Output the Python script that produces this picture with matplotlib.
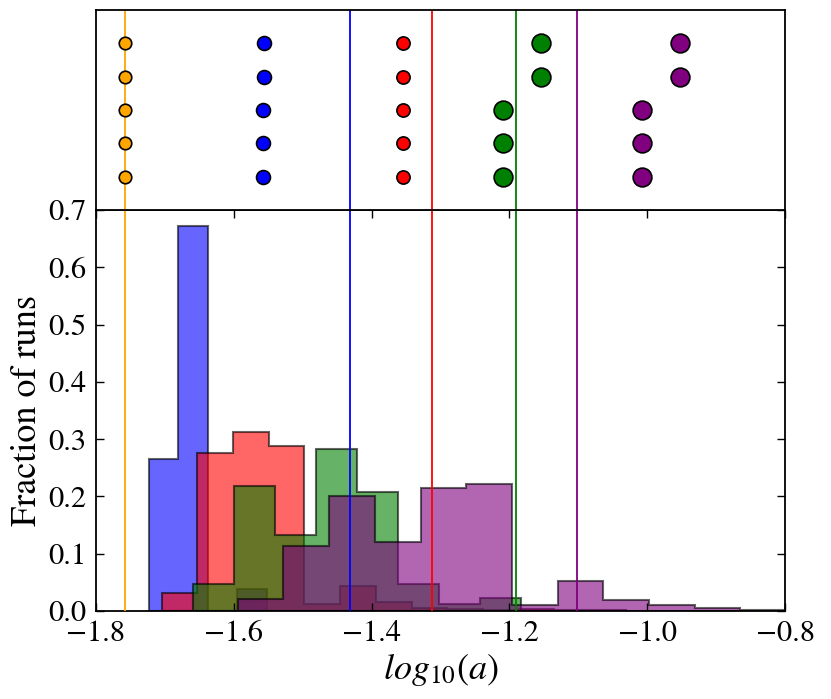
import numpy as np
import matplotlib
matplotlib.use("Agg")
import matplotlib.pyplot as plt

plt.rcParams['font.family'] = ['STIXGeneral', 'DejaVu Serif']
plt.rcParams['mathtext.fontset'] = 'stix'
plt.rcParams['axes.unicode_minus'] = True

# ---------------- data ----------------
blue_edges = [-1.7231, -1.6804, -1.6377, -1.5950, -1.5523]
blue_vals = [0.265, 0.672, 0.0, 0.038]

red_edges = [-1.7046, -1.6528, -1.6010, -1.5492, -1.4974, -1.4456, -1.3938,
             -1.3420, -1.2902, -1.2384, -1.1866, -1.1348, -1.0830, -1.0312]
red_vals = [0.031, 0.276, 0.313, 0.288, 0.013, 0.044, 0.016, 0.005,
            0.004, 0.002, 0.003, 0.002, 0.001]

green_edges = [-1.6597, -1.6002, -1.5407, -1.4812, -1.4217, -1.3622,
               -1.3027, -1.2432, -1.1837]
green_vals = [0.047, 0.218, 0.132, 0.283, 0.208, 0.048, 0.013, 0.022]

purple_edges = [-1.5943, -1.5280, -1.4617, -1.3953, -1.3290, -1.2627, -1.1963,
                -1.1300, -1.0637, -0.9973, -0.9310, -0.8647, -0.7983]
purple_vals = [0.021, 0.113, 0.200, 0.120, 0.214, 0.221, 0.0105, 0.052,
               0.020, 0.0105, 0.006, 0.002]

# vertical reference lines
vline_colors = ['orange', 'blue', 'red', 'green', 'purple']
vline_x = [-1.758, -1.431, -1.312, -1.190, -1.102]

# top-panel points (row 1..5)
point_rows = [5, 4, 3, 2, 1]
orange_x = [-1.758, -1.758, -1.758, -1.758, -1.758]
blue_x = [-1.556, -1.556, -1.557, -1.557, -1.557]
red_x = [-1.354, -1.354, -1.355, -1.355, -1.355]
green_x = [-1.154, -1.154, -1.209, -1.209, -1.209]
purple_x = [-0.952, -0.952, -1.008, -1.008, -1.008]

x_ticks = [-1.8, -1.6, -1.4, -1.2, -1.0, -0.8]
y_ticks = [0.0, 0.1, 0.2, 0.3, 0.4, 0.5, 0.6, 0.7]

# ---------------- figure ----------------
fig = plt.figure(figsize=(8.31, 6.99), dpi=100)
L, W = 96 / 831, 689 / 831
ax = fig.add_axes([L, 1 - 611 / 699, W, 401 / 699])
axt = fig.add_axes([L, 1 - 210 / 699, W, 200 / 699])

for edges, vals, c in [(blue_edges, blue_vals, 'blue'),
                       (red_edges, red_vals, 'red'),
                       (green_edges, green_vals, 'green'),
                       (purple_edges, purple_vals, 'purple')]:
    ax.hist(edges[:-1], bins=edges, weights=vals, histtype='stepfilled',
            facecolor=c, edgecolor='black', alpha=0.6, linewidth=1.5, zorder=1)

for xv, c in zip(vline_x, vline_colors):
    ax.axvline(xv, color=c, lw=1.3, zorder=3)
    axt.axvline(xv, color=c, lw=1.3, zorder=1)

ax.set_xlim(-1.8, -0.8)
ax.set_ylim(0, 0.7)
ax.set_xticks(x_ticks)
ax.set_yticks(y_ticks)
ax.tick_params(direction='in', top=True, right=True, length=6, width=1,
               labelsize=22, pad=7)
ax.set_xlabel(r'$log_{10}(a)$', fontsize=26, labelpad=2)
ax.set_ylabel('Fraction of runs', fontsize=26, labelpad=3)
for s in ax.spines.values():
    s.set_linewidth(1.3)

for xs, c, ms in [(orange_x, 'orange', 9), (blue_x, 'blue', 10),
                  (red_x, 'red', 9.5), (green_x, 'green', 13.5),
                  (purple_x, 'purple', 13.5)]:
    axt.plot(xs, point_rows, 'o', color=c, markersize=ms,
             markeredgecolor='black', markeredgewidth=1.2, zorder=3,
             linestyle='none')

axt.set_xlim(-1.8, -0.8)
axt.set_ylim(0, 6)
axt.set_xticks([])
axt.set_yticks([])
for s in axt.spines.values():
    s.set_linewidth(1.3)

fig.savefig('out.png', dpi=100)
